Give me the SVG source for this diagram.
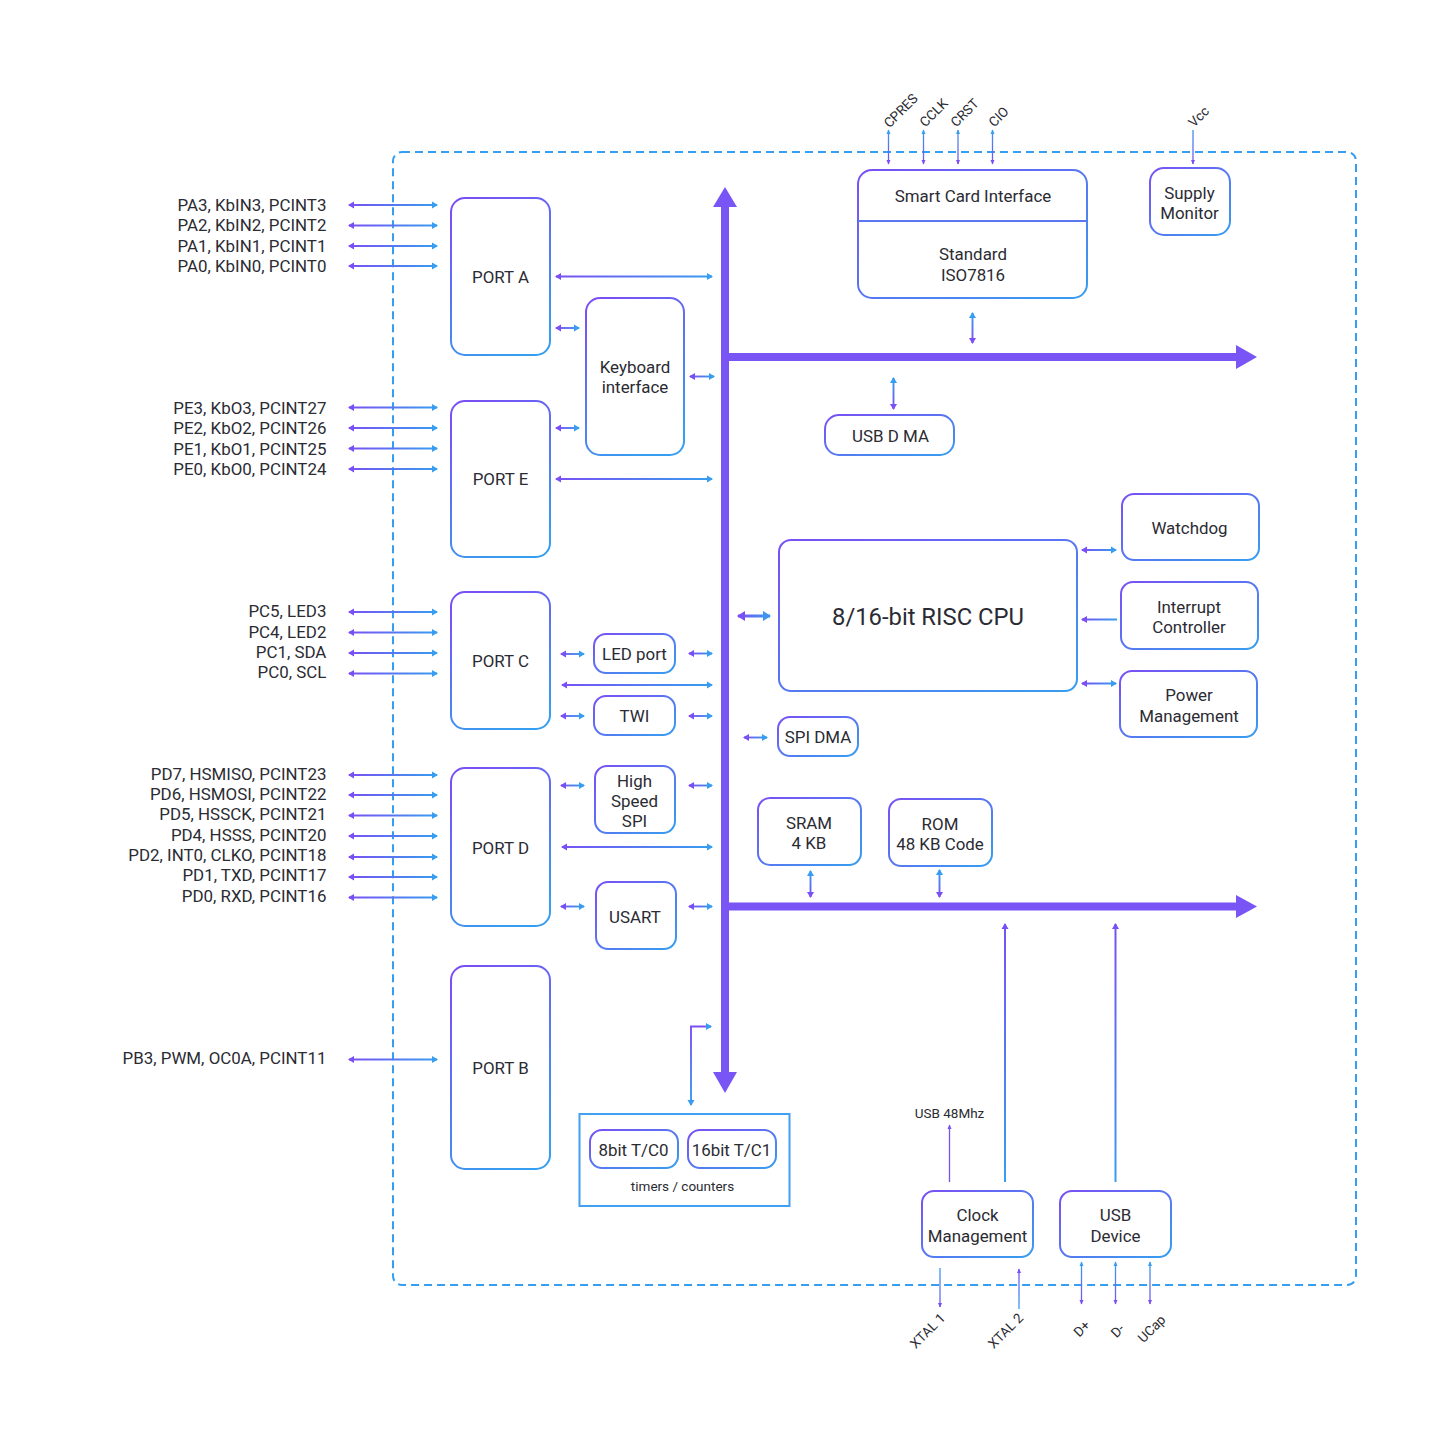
<svg xmlns="http://www.w3.org/2000/svg" width="1441" height="1441" viewBox="0 0 1441 1441">
<style>
text{font-family:Roboto,"Liberation Sans",sans-serif;font-size:16.9px;fill:#2b2b33;text-anchor:middle}
.pin{text-anchor:end}
.sm{font-size:13.5px}
.n{fill:#fff;stroke:url(#nodeG);stroke-width:2}
.tall{stroke:url(#tallG)}
.c{fill:none;stroke-width:1.9;marker-start:url(#hP);marker-end:url(#hB)}
.c2{fill:none;stroke-width:1.9;marker-start:url(#hB);marker-end:url(#hP)}
.o{fill:none;stroke-width:1.3}
.bus{fill:#7a55f5}
</style>
<defs>
<linearGradient id="nodeG" x1="0" y1="0" x2="1" y2="1"><stop offset="0" stop-color="#7a4ff5"/><stop offset="1" stop-color="#369ef0"/></linearGradient>
<linearGradient id="tallG" x1="0.2" y1="0" x2="0.6" y2="1"><stop offset="0" stop-color="#7a4ff5"/><stop offset="1" stop-color="#369ef0"/></linearGradient>
<linearGradient id="pins" gradientUnits="userSpaceOnUse" x1="348" y1="0" x2="438" y2="0"><stop offset="0" stop-color="#7a4ff5"/><stop offset="1" stop-color="#369ef0"/></linearGradient>
<linearGradient id="long" gradientUnits="userSpaceOnUse" x1="555" y1="0" x2="713" y2="0"><stop offset="0" stop-color="#7a4ff5"/><stop offset="1" stop-color="#369ef0"/></linearGradient>
<linearGradient id="s1" gradientUnits="userSpaceOnUse" x1="555" y1="0" x2="585" y2="0"><stop offset="0" stop-color="#7a4ff5"/><stop offset="1" stop-color="#369ef0"/></linearGradient>
<linearGradient id="s2" gradientUnits="userSpaceOnUse" x1="688" y1="0" x2="715" y2="0"><stop offset="0" stop-color="#7a4ff5"/><stop offset="1" stop-color="#369ef0"/></linearGradient>
<linearGradient id="s3" gradientUnits="userSpaceOnUse" x1="736" y1="0" x2="772" y2="0"><stop offset="0" stop-color="#7a4ff5"/><stop offset="1" stop-color="#369ef0"/></linearGradient>
<linearGradient id="s4" gradientUnits="userSpaceOnUse" x1="743" y1="0" x2="768" y2="0"><stop offset="0" stop-color="#7a4ff5"/><stop offset="1" stop-color="#369ef0"/></linearGradient>
<linearGradient id="s5" gradientUnits="userSpaceOnUse" x1="1080" y1="0" x2="1117" y2="0"><stop offset="0" stop-color="#7a4ff5"/><stop offset="1" stop-color="#369ef0"/></linearGradient>
<linearGradient id="v1" gradientUnits="userSpaceOnUse" x1="0" y1="125" x2="0" y2="166"><stop offset="0" stop-color="#369ef0"/><stop offset="1" stop-color="#7a4ff5"/></linearGradient>
<linearGradient id="v2" gradientUnits="userSpaceOnUse" x1="0" y1="312" x2="0" y2="344"><stop offset="0" stop-color="#369ef0"/><stop offset="1" stop-color="#7a4ff5"/></linearGradient>
<linearGradient id="v3" gradientUnits="userSpaceOnUse" x1="0" y1="377" x2="0" y2="410"><stop offset="0" stop-color="#369ef0"/><stop offset="1" stop-color="#7a4ff5"/></linearGradient>
<linearGradient id="v4" gradientUnits="userSpaceOnUse" x1="0" y1="870" x2="0" y2="898"><stop offset="0" stop-color="#369ef0"/><stop offset="1" stop-color="#7a4ff5"/></linearGradient>
<linearGradient id="v5" gradientUnits="userSpaceOnUse" x1="0" y1="922" x2="0" y2="1182"><stop offset="0" stop-color="#7a4ff5"/><stop offset="1" stop-color="#369ef0"/></linearGradient>
<linearGradient id="v6" gradientUnits="userSpaceOnUse" x1="0" y1="1261" x2="0" y2="1306"><stop offset="0" stop-color="#369ef0"/><stop offset="1" stop-color="#7a4ff5"/></linearGradient>
<linearGradient id="v7" gradientUnits="userSpaceOnUse" x1="0" y1="1268" x2="0" y2="1310"><stop offset="0" stop-color="#369ef0"/><stop offset="1" stop-color="#7a4ff5"/></linearGradient>
<linearGradient id="v8" gradientUnits="userSpaceOnUse" x1="0" y1="1268" x2="0" y2="1310"><stop offset="0" stop-color="#7a4ff5"/><stop offset="1" stop-color="#369ef0"/></linearGradient>
<linearGradient id="tim" gradientUnits="userSpaceOnUse" x1="691" y1="1026" x2="691" y2="1106"><stop offset="0" stop-color="#7a4ff5"/><stop offset="1" stop-color="#369ef0"/></linearGradient>
<marker id="hP" markerUnits="userSpaceOnUse" markerWidth="8" markerHeight="8" refX="5" refY="4" orient="auto-start-reverse" viewBox="0 0 8 8"><path d="M0 0.500L6 4L0 7.500Z" fill="#7a4ff5"/></marker>
<marker id="hB" markerUnits="userSpaceOnUse" markerWidth="8" markerHeight="8" refX="5" refY="4" orient="auto-start-reverse" viewBox="0 0 8 8"><path d="M0 0.500L6 4L0 7.500Z" fill="#369ef0"/></marker>
<marker id="bP" markerUnits="userSpaceOnUse" markerWidth="10" markerHeight="12" refX="7" refY="6" orient="auto-start-reverse" viewBox="0 0 10 12"><path d="M0 1L8 6L0 11Z" fill="#7a4ff5"/></marker>
<marker id="bB" markerUnits="userSpaceOnUse" markerWidth="10" markerHeight="12" refX="7" refY="6" orient="auto-start-reverse" viewBox="0 0 10 12"><path d="M0 1L8 6L0 11Z" fill="#3f93f1"/></marker>
<marker id="tP" markerUnits="userSpaceOnUse" markerWidth="6" markerHeight="6" refX="4" refY="3" orient="auto-start-reverse" viewBox="0 0 6 6"><path d="M0 1L4.500 3L0 5Z" fill="#7a4ff5"/></marker>
<marker id="tB" markerUnits="userSpaceOnUse" markerWidth="6" markerHeight="6" refX="4" refY="3" orient="auto-start-reverse" viewBox="0 0 6 6"><path d="M0 1L4.500 3L0 5Z" fill="#369ef0"/></marker>
</defs>
<rect width="1441" height="1441" fill="#fff"/>
<rect id="chip-boundary" x="393" y="152" width="963" height="1133" rx="9" fill="none" stroke="#369ef0" stroke-width="2" stroke-dasharray="8 5"/>
<g id="connectors">
<g id="pin-lines" stroke="url(#pins)">
<path class="c" d="M349 205H437"/><path class="c" d="M349 225.500H437"/><path class="c" d="M349 246H437"/><path class="c" d="M349 266H437"/>
<path class="c" d="M349 407.500H437"/><path class="c" d="M349 428H437"/><path class="c" d="M349 448.500H437"/><path class="c" d="M349 469H437"/>
<path class="c" d="M349 612H437"/><path class="c" d="M349 632.500H437"/><path class="c" d="M349 653H437"/><path class="c" d="M349 673.500H437"/>
<path class="c" d="M349 775H437"/><path class="c" d="M349 795H437"/><path class="c" d="M349 815.500H437"/><path class="c" d="M349 836H437"/><path class="c" d="M349 857H437"/><path class="c" d="M349 877H437"/><path class="c" d="M349 897.500H437"/>
<path class="c" d="M349 1059.500H437"/>
</g>
<g stroke="url(#long)">
<path class="c" d="M556 276.500H712"/><path class="c" d="M556 479H712"/><path class="c" d="M562 685H712"/><path class="c" d="M562 847H712"/>
</g>
<g stroke="url(#s1)">
<path class="c" d="M556 328H579"/><path class="c" d="M556 428H579"/>
<path class="c" d="M561 654H584"/><path class="c" d="M561 716H584"/><path class="c" d="M561 785.500H584"/><path class="c" d="M561 906.500H584"/>
</g>
<g stroke="url(#s2)">
<path class="c" d="M690 376.500H714"/><path class="c" d="M689 653.500H712"/><path class="c" d="M689 716H712"/><path class="c" d="M689 785.500H712"/><path class="c" d="M689 906.500H712"/>
</g>
<path fill="none" stroke="url(#s3)" stroke-width="3" marker-start="url(#bP)" marker-end="url(#bB)" d="M738 616H770"/>
<path class="c" stroke="url(#s4)" d="M744 737.500H767"/>
<g stroke="url(#s5)">
<path class="c" d="M1082 550H1116"/><path class="c" d="M1082 683.500H1116"/>
<path fill="none" stroke-width="1.9" marker-start="url(#hP)" d="M1082 619.500H1117"/>
</g>
<g stroke="url(#v1)">
<path class="o" marker-start="url(#tB)" marker-end="url(#tP)" d="M888.500 130V164"/><path class="o" marker-start="url(#tB)" marker-end="url(#tP)" d="M923.500 130V164"/><path class="o" marker-start="url(#tB)" marker-end="url(#tP)" d="M958 130V164"/><path class="o" marker-start="url(#tB)" marker-end="url(#tP)" d="M992.500 130V164"/>
<path class="o" marker-end="url(#tP)" d="M1193 130V164"/>
</g>
<path class="c2" stroke="url(#v2)" d="M972.500 313V343"/>
<path class="c2" stroke="url(#v3)" d="M893.500 378V409"/>
<g stroke="url(#v4)">
<path class="c2" d="M810.500 871V897"/><path class="c2" d="M939.500 870V897"/>
</g>
<g stroke="url(#v5)" fill="none" stroke-width="2">
<path marker-start="url(#hP)" d="M1005 924V1182"/><path marker-start="url(#hP)" d="M1115.500 924V1182"/>
</g>
<path class="o" marker-start="url(#tP)" stroke="#7a4ff5" d="M949.500 1125V1182"/>
<path class="o" marker-end="url(#tP)" stroke="url(#v7)" d="M940 1268V1307"/>
<path class="o" marker-start="url(#tP)" stroke="url(#v8)" d="M1019 1269V1309"/>
<g stroke="url(#v6)">
<path class="o" marker-start="url(#tB)" marker-end="url(#tP)" d="M1081.500 1262V1304"/><path class="o" marker-start="url(#tB)" marker-end="url(#tP)" d="M1115.500 1262V1304"/><path class="o" marker-start="url(#tB)" marker-end="url(#tP)" d="M1150 1262V1304"/>
</g>
<path fill="none" stroke="url(#tim)" stroke-width="1.9" marker-start="url(#hB)" marker-end="url(#hB)" d="M691 1105V1026.500H711"/>
<g id="buses" class="bus">
<path d="M721 207L713 207L725 187L737 207L729 207V353H1236V345L1257 357L1236 369V361H729V902.500H1236V895L1257 906.500L1236 918V910.500H729V1072H737L725 1093L713 1072H721Z"/>
</g>
</g>
<g id="port-a"><rect class="n tall" x="451" y="198" width="99" height="157" rx="14"/><text x="500.500" y="283">PORT A</text></g>
<g id="port-e"><rect class="n tall" x="451" y="401" width="99" height="156" rx="14"/><text x="500.500" y="485">PORT E</text></g>
<g id="port-c"><rect class="n tall" x="451" y="592" width="99" height="137" rx="14"/><text x="500.500" y="667">PORT C</text></g>
<g id="port-d"><rect class="n tall" x="451" y="768" width="99" height="158" rx="14"/><text x="500.500" y="854">PORT D</text></g>
<g id="port-b"><rect class="n tall" x="451" y="966" width="99" height="203" rx="14"/><text x="500.500" y="1074">PORT B</text></g>
<g id="keyboard"><rect class="n tall" x="586" y="298" width="98" height="157" rx="14"/><text x="635" y="373">Keyboard</text><text x="635" y="393">interface</text></g>
<g id="smart-card"><rect class="n" x="858" y="170" width="229" height="128" rx="14"/><path d="M858 221H1087" fill="none" stroke="#5a78f2" stroke-width="2"/><text x="973" y="202">Smart Card Interface</text><text x="973" y="260">Standard</text><text x="973" y="281">ISO7816</text></g>
<g id="supply-monitor"><rect class="n" x="1150" y="168" width="80" height="67" rx="14"/><text x="1189.500" y="199">Supply</text><text x="1189.500" y="219">Monitor</text></g>
<g id="usb-dma"><rect class="n" x="825" y="415" width="129" height="40" rx="14"/><text x="890.500" y="442">USB D MA</text></g>
<g id="watchdog"><rect class="n" x="1122" y="494" width="137" height="66" rx="12"/><text x="1189.500" y="534">Watchdog</text></g>
<g id="cpu"><rect class="n" x="779" y="540" width="298" height="151" rx="12"/><text x="928" y="625" style="font-size:23.800px">8/16-bit RISC CPU</text></g>
<g id="interrupt"><rect class="n" x="1121" y="582" width="137" height="67" rx="12"/><text x="1189" y="613">Interrupt</text><text x="1189" y="633">Controller</text></g>
<g id="power"><rect class="n" x="1120" y="671" width="137" height="66" rx="12"/><text x="1189" y="701">Power</text><text x="1189" y="722">Management</text></g>
<g id="spi-dma"><rect class="n" x="778" y="717" width="80" height="39" rx="12"/><text x="818" y="743">SPI DMA</text></g>
<g id="led-port"><rect class="n" x="594" y="634" width="81" height="39" rx="12"/><text x="634.500" y="660">LED port</text></g>
<g id="twi"><rect class="n" x="594" y="696" width="81" height="39" rx="12"/><text x="634.500" y="722">TWI</text></g>
<g id="hs-spi"><rect class="n" x="595" y="766" width="80" height="67" rx="12"/><text x="634.500" y="787">High</text><text x="634.500" y="807">Speed</text><text x="634.500" y="827">SPI</text></g>
<g id="usart"><rect class="n" x="596" y="882" width="80" height="67" rx="12"/><text x="635" y="923">USART</text></g>
<g id="sram"><rect class="n" x="758" y="798" width="103" height="67" rx="12"/><text x="809" y="829">SRAM</text><text x="809" y="849">4 KB</text></g>
<g id="rom"><rect class="n" x="889" y="799" width="103" height="67" rx="12"/><text x="940" y="830">ROM</text><text x="940" y="850">48 KB Code</text></g>
<g id="timers"><rect x="579.500" y="1114" width="210" height="92" fill="#fff" stroke="#41a0f2" stroke-width="2"/><text class="sm" x="682.500" y="1191">timers / counters</text>
<g id="t0"><rect class="n" x="590" y="1130" width="88" height="38" rx="12"/><text x="633.500" y="1156">8bit T/C0</text></g>
<g id="t1"><rect class="n" x="688" y="1130" width="88" height="38" rx="12"/><text x="731.500" y="1156">16bit T/C1</text></g></g>
<g id="clock"><rect class="n" x="922" y="1191" width="111" height="66" rx="12"/><text x="977.500" y="1221">Clock</text><text x="977.500" y="1242">Management</text></g>
<g id="usb-device"><rect class="n" x="1060" y="1191" width="111" height="66" rx="12"/><text x="1115.500" y="1221">USB</text><text x="1115.500" y="1242">Device</text></g>
<g id="pin-labels">
<text class="pin" x="326.400" y="211">PA3, KbIN3, PCINT3</text><text class="pin" x="326.400" y="231">PA2, KbIN2, PCINT2</text><text class="pin" x="326.400" y="252">PA1, KbIN1, PCINT1</text><text class="pin" x="326.400" y="272">PA0, KbIN0, PCINT0</text>
<text class="pin" x="326.400" y="414">PE3, KbO3, PCINT27</text><text class="pin" x="326.400" y="434">PE2, KbO2, PCINT26</text><text class="pin" x="326.400" y="455">PE1, KbO1, PCINT25</text><text class="pin" x="326.400" y="475">PE0, KbO0, PCINT24</text>
<text class="pin" x="326.400" y="617">PC5, LED3</text><text class="pin" x="326.400" y="638">PC4, LED2</text><text class="pin" x="326.400" y="658">PC1, SDA</text><text class="pin" x="326.400" y="678">PC0, SCL</text>
<text class="pin" x="326.400" y="780">PD7, HSMISO, PCINT23</text><text class="pin" x="326.400" y="800">PD6, HSMOSI, PCINT22</text><text class="pin" x="326.400" y="820">PD5, HSSCK, PCINT21</text><text class="pin" x="326.400" y="841">PD4, HSSS, PCINT20</text><text class="pin" x="326.400" y="861">PD2, INT0, CLKO, PCINT18</text><text class="pin" x="326.400" y="881">PD1, TXD, PCINT17</text><text class="pin" x="326.400" y="902">PD0, RXD, PCINT16</text>
<text class="pin" x="326.400" y="1064">PB3, PWM, OC0A, PCINT11</text>
<text class="sm" x="949.500" y="1118">USB 48Mhz</text>
<text class="sm" transform="translate(904 114) rotate(-45)">CPRES</text>
<text class="sm" transform="translate(937 116) rotate(-45)">CCLK</text>
<text class="sm" transform="translate(968 116) rotate(-45)">CRST</text>
<text class="sm" transform="translate(1002 120) rotate(-45)">CIO</text>
<text class="sm" transform="translate(1202 120) rotate(-45)">Vcc</text>
<text class="sm" transform="translate(931 1334) rotate(-45)">XTAL 1</text>
<text class="sm" transform="translate(1009 1334) rotate(-45)">XTAL 2</text>
<text class="sm" transform="translate(1085 1332) rotate(-45)">D+</text>
<text class="sm" transform="translate(1121 1334) rotate(-45)">D-</text>
<text class="sm" transform="translate(1155 1332) rotate(-45)">UCap</text>
</g>
</svg>
